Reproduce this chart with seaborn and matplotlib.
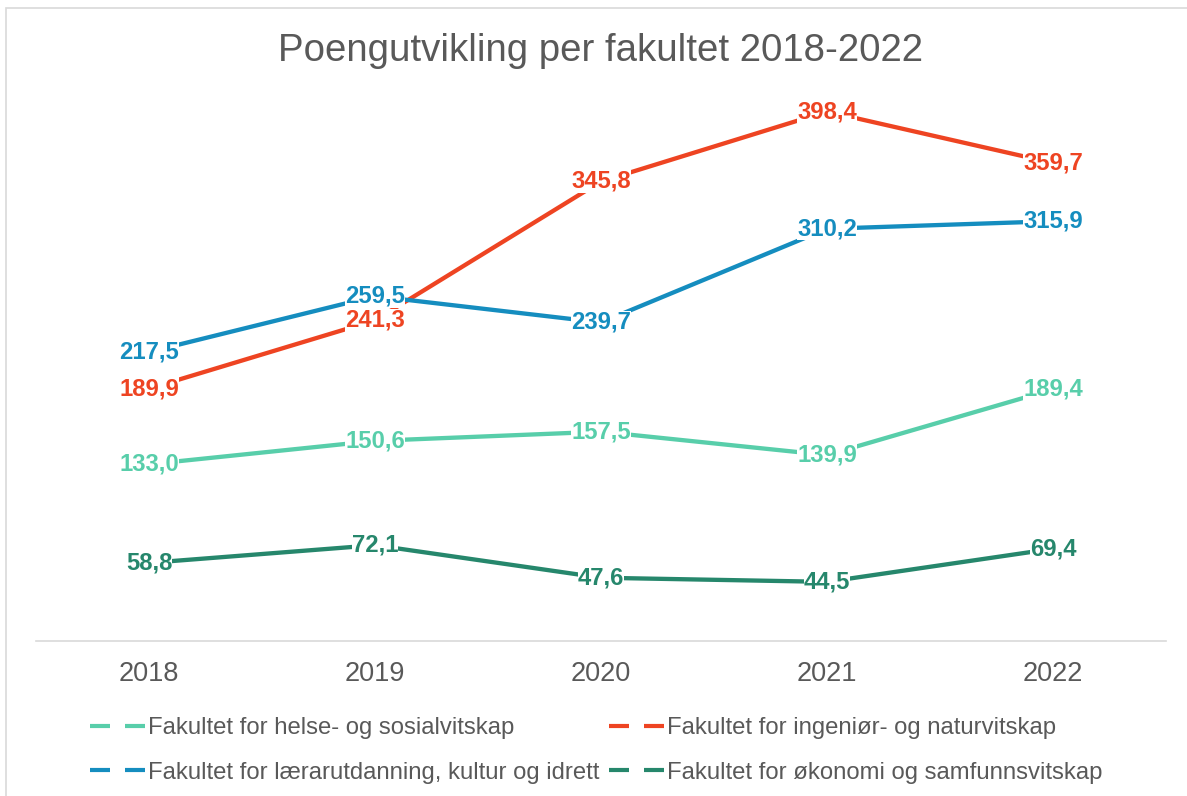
import pandas as pd
import seaborn as sns
from matplotlib import pyplot as plt
from matplotlib.lines import Line2D
from matplotlib.patches import Rectangle

years = ['2018', '2019', '2020', '2021', '2022']
faculties = [
    'Fakultet for helse- og sosialvitskap',
    'Fakultet for ingeniør- og naturvitskap',
    'Fakultet for lærarutdanning, kultur og idrett',
    'Fakultet for økonomi og samfunnsvitskap',
]
helse = [133.0, 150.6, 157.5, 139.9, 189.4]
ingenior = [189.9, 241.3, 345.8, 398.4, 359.7]
laerer = [217.5, 259.5, 239.7, 310.2, 315.9]
okonomi = [58.8, 72.1, 47.6, 44.5, 69.4]
colors = ['#58CEAA', '#EE4422', '#158DBF', '#26876C']

sns.set_theme(style='white')
plt.rcParams['font.family'] = ['Liberation Sans', 'DejaVu Sans']

# long format for seaborn
rows = []
for fac, vals in zip(faculties, [helse, ingenior, laerer, okonomi]):
    for y, v in zip(years, vals):
        rows.append({'year': y, 'points': v, 'faculty': fac})
df = pd.DataFrame(rows)

W, H = 1187, 796
fig = plt.figure(figsize=(W / 100, H / 100), dpi=100)
ax = fig.add_axes([36 / W, 1 - 641 / H, (1166 - 36) / W, (641 - 43) / H])

palette = dict(zip(faculties, colors))
sns.lineplot(data=df, x='year', y='points', hue='faculty', palette=palette,
             linewidth=3.1, legend=False, ax=ax, zorder=2)

# data labels, centered on the points
for fac, vals in zip(faculties, [helse, ingenior, laerer, okonomi]):
    for i, v in enumerate(vals):
        ax.text(i, v, f'{v:.1f}'.replace('.', ','), ha='center', va='center',
                fontsize=17.2, fontweight='bold', color=palette[fac], zorder=5,
                bbox=dict(boxstyle='square,pad=0.0', fc='white', ec='none'))

ax.set_xlim(-0.5, 4.5)
ax.set_ylim(0, 450)
ax.set_xlabel('')
ax.set_ylabel('')
ax.set_yticks([])
for s in ['top', 'left', 'right']:
    ax.spines[s].set_visible(False)
ax.spines['bottom'].set_color('#D9D9D9')
ax.spines['bottom'].set_linewidth(1.2)
ax.tick_params(axis='x', length=0, pad=14.5, labelsize=19.5, labelcolor='#595959')
ax.patch.set_alpha(0)

fig.text(601 / W, 1 - 51 / H, 'Poengutvikling per fakultet 2018-2022',
         ha='center', va='center', fontsize=27.6, color='#595959')

# legend with Excel-like dashed handles
order = [0, 2, 1, 3]
handles = [Line2D([], [], color=colors[k], lw=3, dashes=(4.8, 3.6))
           for k in order]
labels = [faculties[k] for k in order]
fig.legend(handles, labels, ncol=2, loc='upper left',
           bbox_to_anchor=(90 / W, 1 - 717 / H), frameon=False,
           fontsize=17.2, handlelength=2.3, handletextpad=0.12,
           columnspacing=0.4, labelspacing=0.95, borderpad=0,
           borderaxespad=0, labelcolor='#595959')

# chart border
fig.patches.append(Rectangle((6 / W, -0.1), 1.2, 1.1 - 8 / H,
                             transform=fig.transFigure, fill=False,
                             ec='#D9D9D9', lw=1.2))

fig.savefig('out.png', dpi=100)
